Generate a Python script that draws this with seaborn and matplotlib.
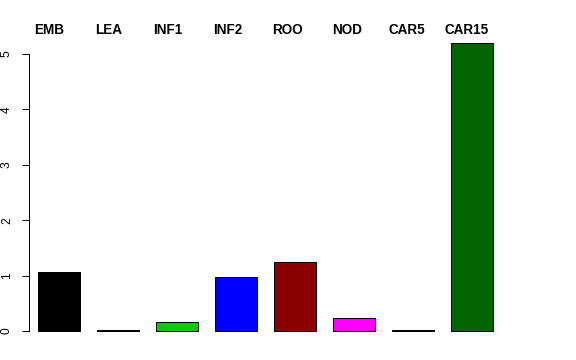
import matplotlib
matplotlib.use("Agg")
import matplotlib.pyplot as plt
import matplotlib.transforms as mtransforms
import seaborn as sns
import pandas as pd

categories = ["EMB", "LEA", "INF1", "INF2", "ROO", "NOD", "CAR5", "CAR15"]
values = [1.065, 0.01, 0.16, 0.97, 1.245, 0.23, 0.01, 5.2]
colors = ["#000000", "#FF0000", "#00CD00", "#0000FF", "#8B0000", "#FF00FF", "#FFA500", "#006400"]
yticks = [0, 1, 2, 3, 4, 5]

df = pd.DataFrame({"cat": categories, "val": values})

sns.set_style("white")
plt.rcParams["font.family"] = ["Liberation Sans", "DejaVu Sans"]
plt.rcParams["text.color"] = "black"
plt.rcParams["ytick.color"] = "black"
plt.rcParams["axes.labelcolor"] = "black"

W, H = 576, 360
fig = plt.figure(figsize=(W / 72, H / 72), dpi=72)
left, right, top, bottom = 29, 512, 31.4, 342.5
ax = fig.add_axes([left / W, 1 - bottom / H, (right - left) / W, (bottom - top) / H])

sns.barplot(data=df, x="cat", y="val", hue="cat", palette=colors, legend=False,
            width=0.71, edgecolor="black", linewidth=1, saturation=1, ax=ax)

# x range: bar 0 center at px 59
step = 59.0
x0 = -(59 - left) / step
x1 = x0 + (right - left) / step
ax.set_xlim(x0, x1)
ax.set_ylim(-0.208, 5.408)

for s in ["top", "right", "bottom"]:
    ax.spines[s].set_visible(False)
ax.spines["left"].set_bounds(0, 5)
ax.spines["left"].set_color("black")
ax.spines["left"].set_linewidth(1)

ax.set_yticks(yticks)
ax.set_yticklabels([str(t) for t in yticks], rotation=90, va="center", fontsize=12, color="black")
ax.tick_params(axis="y", length=7, width=1, color="black", left=True, pad=9)
ax.set_xticks([])
ax.set_xlabel("")
ax.set_ylabel("")

# category labels along the top (R-style, slightly offset from the bars)
label_start_px, label_step_px = 48.8, 59.64
trans = mtransforms.blended_transform_factory(ax.transData, fig.transFigure)
for i, c in enumerate(categories):
    xpx = label_start_px + label_step_px * i
    xd = x0 + (xpx - left) / step
    ax.text(xd, 1 - 29.0 / H, c, transform=trans, ha="center", va="center_baseline",
            fontsize=13.5, fontweight="bold", color="black", clip_on=False)

fig.savefig("out.png", dpi=72)
